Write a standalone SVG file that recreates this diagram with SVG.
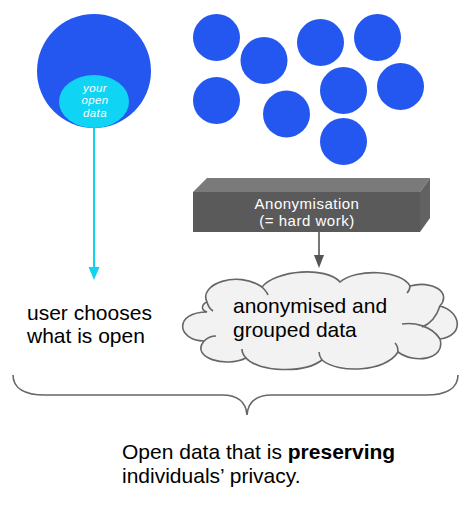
<svg xmlns="http://www.w3.org/2000/svg" width="474" height="520" viewBox="0 0 474 520">
<defs>
<style>
.dot{fill:#2357F0}
.lbl{font-family:"Liberation Sans",Arial,sans-serif;font-size:21px;fill:#000}
.box{font-family:"Liberation Sans",Arial,sans-serif;font-size:15px;letter-spacing:0.5px;fill:#fff;text-anchor:middle}
.inner{font-family:"Liberation Sans",Arial,sans-serif;font-size:11.5px;letter-spacing:0.4px;font-style:italic;fill:#fff;text-anchor:middle}
.gray{stroke:#666;stroke-width:1.6;fill:none}
</style>
</defs>
<rect width="474" height="520" fill="#fff"/>

<g id="user-data">
<circle cx="94" cy="71" r="57" fill="#2357F0"/>
<ellipse cx="94" cy="101.5" rx="35" ry="26.5" fill="#0FD4F4"/>
<text class="inner" x="95" y="91.5">your</text>
<text class="inner" x="95" y="104">open</text>
<text class="inner" x="95" y="116.5">data</text>
</g>

<g id="crowd">
<circle class="dot" cx="216.5" cy="37.5" r="23.5"/>
<circle class="dot" cx="264" cy="60.5" r="23.5"/>
<circle class="dot" cx="320.5" cy="42.5" r="23.5"/>
<circle class="dot" cx="377.5" cy="37.5" r="23.5"/>
<circle class="dot" cx="216.5" cy="100.5" r="23.5"/>
<circle class="dot" cx="286.5" cy="114" r="23.5"/>
<circle class="dot" cx="343.5" cy="90.5" r="23.5"/>
<circle class="dot" cx="400.5" cy="86.5" r="23.5"/>
<circle class="dot" cx="343.5" cy="141.5" r="23.5"/>
</g>

<g id="anonymisation">
<polygon points="193,192 207,178 430,178 420,192" fill="#7a7a7a"/>
<polygon points="420,192 430,178 430,218 420,232" fill="#626262"/>
<rect x="193" y="192" width="227" height="40" fill="#5a5a5a"/>
<text class="box" x="307" y="208.5">Anonymisation</text>
<text class="box" x="307" y="225.5">(= hard work)</text>
</g>

<g id="cloud">
<path d="M207,302 C198,284 238,270 262,287 C276,270 326,266 340,282 C356,268 402,270 410,286 C432,280 452,292 440,306 C462,312 464,336 440,339 C446,360 414,364 398,352 C386,372 338,374 322,360 C304,374 258,372 246,358 C226,368 190,358 204,341 C176,340 174,312 207,312 C200,310 202,304 207,302 Z" fill="#f2f2f2" stroke="#666" stroke-width="1.6"/>
<path class="gray" d="M207,302 C208,306 210,309 213,311"/>
<path class="gray" d="M262,287 C265,290 267,292 268,295"/>
<path class="gray" d="M410,286 C410,289 409,291 407,293"/>
<path class="gray" d="M440,306 C436,318 430,324 422,327"/>
<path class="gray" d="M440,339 C432,326 414,322 402,324"/>
<path class="gray" d="M204,341 C207,338 211,336 216,336"/>
<path class="gray" d="M246,358 C243,355 242,352 242,349"/>
<path class="gray" d="M322,360 C320,357 319,355 319,352"/>
<path class="gray" d="M398,352 C398,348 397,345 395,343"/>
<text class="lbl" x="233" y="313">anonymised and</text>
<text class="lbl" x="233" y="337">grouped data</text>
</g>

<g id="user-label">
<text class="lbl" x="27" y="320">user chooses</text>
<text class="lbl" x="27" y="343">what is open</text>
</g>

<g id="summary">
<path d="M13,375 C13,389 26,395 45,395 L222,395 C238,395 246,402 247,415 C248,402 256,395 272,395 L426,395 C445,395 458,389 458,375" fill="none" stroke="#666" stroke-width="1.6"/>
<text class="lbl" x="122" y="459">Open data that is <tspan font-weight="bold">preserving</tspan></text>
<text class="lbl" x="122" y="483">individuals’ privacy.</text>
</g>

<g id="connectors">
<line x1="94" y1="128" x2="94" y2="268" stroke="#12D2F2" stroke-width="2"/>
<path d="M88.5,267 L99.5,267 L94,280 Z" fill="#12D2F2"/>
<line x1="319" y1="232" x2="319" y2="256" stroke="#555" stroke-width="1.6"/>
<path d="M314,255 L324,255 L319,268 Z" fill="#555"/>
</g>
</svg>
